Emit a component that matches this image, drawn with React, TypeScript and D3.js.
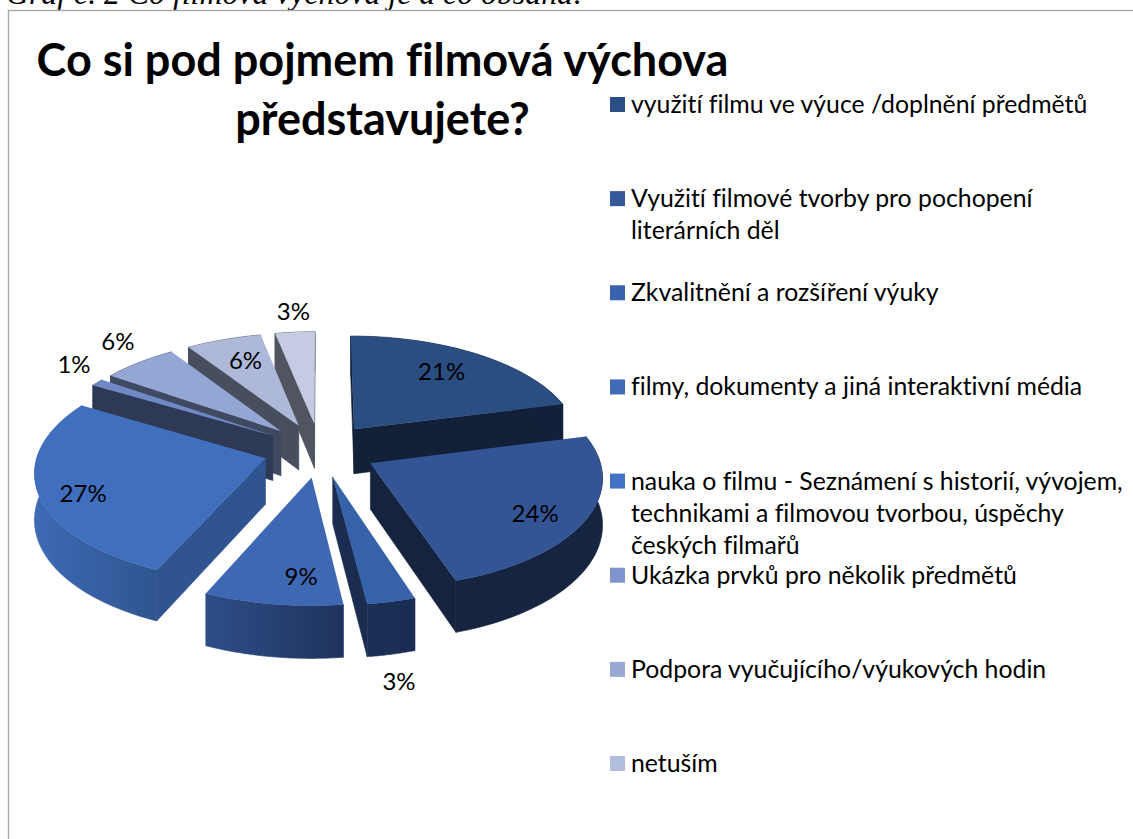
import React from "react";
import * as d3 from "d3";

const caption = "Graf č. 2 Co filmová výchova je a co obsahá:";
const titleLines = ["Co si pod pojmem filmová výchova", "představujete?"];

const sliceValues = [21, 24, 3, 8.6, 26.9, 1.1, 6.1, 6.1, 3.2];
const topColors = ["#2a4d82", "#335596", "#3562a8", "#3e68b3", "#406fbd", "#7089c6", "#94a6d3", "#aeb9da", "#c5cbe2"];
const rimLeft = ["#132039", "#15243f", "#1b3056", "#2e4e88", "#3e6bb5", "#2e3a55", "#3f4a62", "#474f5f", "#50555f"];
const rimRight = ["#132039", "#15243f", "#1a2c50", "#1e335c", "#2f5490", "#2e3a55", "#3f4a62", "#474f5f", "#50555f"];
const wallColors = ["#122038", "#15233f", "#1a2c50", "#1f355e", "#2f5490", "#2e3a55", "#3f4a62", "#474f5f", "#50555f"];

const labelBearing = [35.9, 121.8, 170.9, 184.3, 249.2, 306.3, 318.5, 338.3, 354.6];
const labelRadius = [0.986, 1.043, 1.758, 1.033, 1.074, 1.48, 1.52, 0.991, 1.511];

const legendEntries = [
  ["využití filmu ve výuce /doplnění předmětů"],
  ["Využití filmové tvorby pro pochopení", "literárních děl"],
  ["Zkvalitnění a rozšíření výuky"],
  ["filmy, dokumenty a jiná interaktivní média"],
  ["nauka o filmu - Seznámení s historií, vývojem,", "technikami a filmovou tvorbou, úspěchy", "českých filmařů"],
  ["Ukázka prvků pro několik předmětů"],
  ["Podpora vyučujícího/výukových hodin"],
  ["netuším"],
];
const legendColors = ["#2b4f85", "#345899", "#3a62ad", "#4069b8", "#4272c4", "#7f95cf", "#98a9d6", "#b2bde0"];

const W = 1133, H = 839;
const cx = 320, cy = 450, R = 227, kR = 107.7, camera = 9.1, explode = 0.25, depth = 45.5;
const legendX = d3.scaleLinear().domain([0, 1]).range([610, 631]);
const legendRow = d3.scaleLinear().domain([0, 7]).range([112, 771]);
const pct = d3.format(".0f");

type P = [number, number];
const project = (X: number, Y: number, drop = 0): P => {
  const s = camera / (camera - Y);
  return [cx + R * X * s, cy + kR * Y * s + drop * depth * s];
};
const polar = (a: number, r: number): P => [r * Math.sin(a), -r * Math.cos(a)];
const line = d3.line<P>();
const closed = (pts: P[]) => line(pts) + "Z";
const cross = (a: P, b: P) => a[0] * b[1] - a[1] * b[0];

const arcs = d3.pie<number>().sort(null).startAngle(0).endAngle(2 * Math.PI)(sliceValues);

const slices = arcs.map((arc, i) => {
  const mid = (arc.startAngle + arc.endAngle) / 2;
  const [ox, oy] = polar(mid, explode);
  const at = (a: number, r: number, drop = 0) => {
    const [x, y] = polar(a, r);
    return project(ox + x, oy + y, drop);
  };
  const steps = d3.range(0, 41).map((t) => arc.startAngle + ((arc.endAngle - arc.startAngle) * t) / 40);
  const rimTop = steps.map((a) => at(a, 1));
  const rimBottom = steps.map((a) => at(a, 1, 1));
  const apex = at(0, 0);
  const apexBottom = at(0, 0, 1);
  const first = rimTop[0], last = rimTop[40];
  const vec = (p: P): P => [p[0] - apex[0], p[1] - apex[1]];
  const down: P = [0, 1];
  const startVisible = cross(vec(first), down) * cross(vec(first), vec(last)) < -1e-6;
  const endVisible = cross(vec(last), down) * cross(vec(last), vec(first)) < -1e-6;
  const walls: string[] = [];
  if (startVisible) walls.push(closed([apex, first, rimBottom[0], apexBottom]));
  if (endVisible) walls.push(closed([apex, last, rimBottom[40], apexBottom]));
  const xs = rimTop.map((p) => p[0]);
  return {
    i,
    sortY: oy,
    top: closed([apex, ...rimTop]),
    rim: closed([...rimTop, ...rimBottom.slice().reverse()]),
    walls,
    x0: d3.min(xs)!,
    x1: d3.max(xs)!,
  };
});
const ordered = d3.sort(slices, (s) => s.sortY);

const font = "Lato, 'Noto Sans', sans-serif";
const textStyle = { fontVariantLigatures: "none" } as React.CSSProperties;

export default function App() {
  return (
    <svg width={W} height={H} viewBox={`0 0 ${W} ${H}`} style={{ position: "absolute", left: 0, top: 0, display: "block", background: "#fff" }}>
      <defs>
        {slices.map((s) => (
          <linearGradient key={s.i} id={`rim${s.i}`} gradientUnits="userSpaceOnUse" x1={s.x0} x2={s.x1} y1={0} y2={0}>
            <stop offset="0" stopColor={rimLeft[s.i]} />
            <stop offset="1" stopColor={rimRight[s.i]} />
          </linearGradient>
        ))}
      </defs>
      <text x={6} y={4} fontFamily="'Liberation Serif', serif" fontStyle="italic" fontSize={31.8} fill="#000">{caption}</text>
      <rect x={8.5} y={10.5} width={W + 20} height={H + 20} fill="#fff" stroke="#a8a8a8" strokeWidth={1.4} />
      {titleLines.map((t, i) => (
        <text key={t} x={382.5} y={76 + i * 59} textAnchor="middle" fontFamily={font} fontWeight={700} fontSize={45} fill="#000" style={textStyle}>{t}</text>
      ))}
      {ordered.map((s) => (
        <g key={s.i}>
          {s.walls.map((d, j) => <path key={j} d={d} fill={wallColors[s.i]} stroke={wallColors[s.i]} strokeWidth={0.6} />)}
          <path d={s.rim} fill={`url(#rim${s.i})`} stroke={`url(#rim${s.i})`} strokeWidth={0.6} />
          <path d={s.top} fill={topColors[s.i]} />
        </g>
      ))}
      {sliceValues.map((v, i) => {
        const [x, y] = polar((labelBearing[i] * Math.PI) / 180, labelRadius[i]);
        const [px, py] = project(x, y);
        return <text key={i} x={px + 1} y={py + 1} dy="0.35em" textAnchor="middle" fontFamily={font} fontSize={24} fill="#000" style={textStyle}>{pct(v)}%</text>;
      })}
      {legendEntries.map((lines, i) => {
        const base = legendRow(i);
        return (
          <g key={i}>
            <rect x={legendX(0)} y={base - 15} width={15} height={15} fill={legendColors[i]} />
            {lines.map((l, j) => (
              <text key={j} x={legendX(1)} y={base + 1 + j * 32} fontFamily={font} fontSize={24.8} fill="#000" style={textStyle}>{l}</text>
            ))}
          </g>
        );
      })}
    </svg>
  );
}
